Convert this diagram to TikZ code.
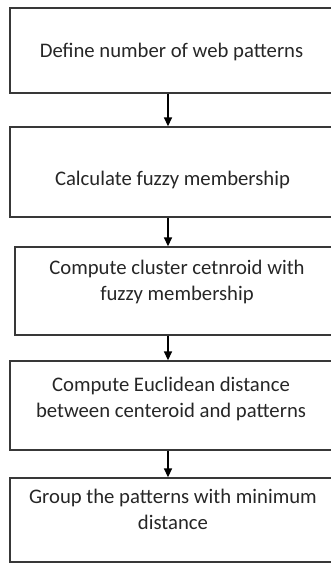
\documentclass[tikz,border=0pt]{standalone}
\usepackage{fontspec}
\setmainfont{Carlito}
\usetikzlibrary{arrows.meta}
\begin{document}
\begin{tikzpicture}[x=1pt,y=-1pt,
  stepbox/.style={draw=black!78,line width=1.3pt,rectangle,inner sep=0pt},
  txt/.style={inner sep=0pt,align=center,font=\fontsize{20.7pt}{26pt}\selectfont,text=black!85},
  arr/.style={draw=black,line width=1.4pt,-{Triangle[width=8pt,length=9pt]}}]
\useasboundingbox (0,0) rectangle (331,563);
% boxes
\node[stepbox,minimum width=324pt,minimum height=85pt] (b1) at (172,50.5) {};
\node[stepbox,minimum width=324pt,minimum height=90pt] (b2) at (172,172) {};
\node[stepbox,minimum width=324pt,minimum height=88pt] (b3) at (177,291) {};
\node[stepbox,minimum width=324pt,minimum height=89pt] (b4) at (172,405.5) {};
\node[stepbox,minimum width=324pt,minimum height=84pt] (b5) at (172,520) {};
% texts (anchor north, first line carries a strut of 16pt above its baseline)
\node[txt,anchor=north] (t1) at (171.5,41.3) {\rule{0pt}{16pt}Define number of web patterns};
\node[txt,anchor=north] (t2) at (172.5,169) {\rule{0pt}{16pt}Calculate fuzzy membership};
\node[txt,anchor=north] (t3) at (177,258) {\rule{0pt}{16pt}Compute cluster cetnroid with\\fuzzy membership};
\node[txt,anchor=north] (t4) at (171,375) {\rule{0pt}{16pt}Compute Euclidean distance\\between centeroid and patterns};
\node[txt,anchor=north] (t5) at (173,487) {\rule{0pt}{16pt}Group the patterns with minimum\\distance};
% arrows
\coordinate (ax) at (168,0);
\draw[arr] (ax |- b1.south) -- (ax |- b2.north);
\draw[arr] (ax |- b2.south) -- (ax |- b3.north);
\draw[arr] (ax |- b3.south) -- (ax |- b4.north);
\draw[arr] (ax |- b4.south) -- (ax |- b5.north);
\end{tikzpicture}
\end{document}
